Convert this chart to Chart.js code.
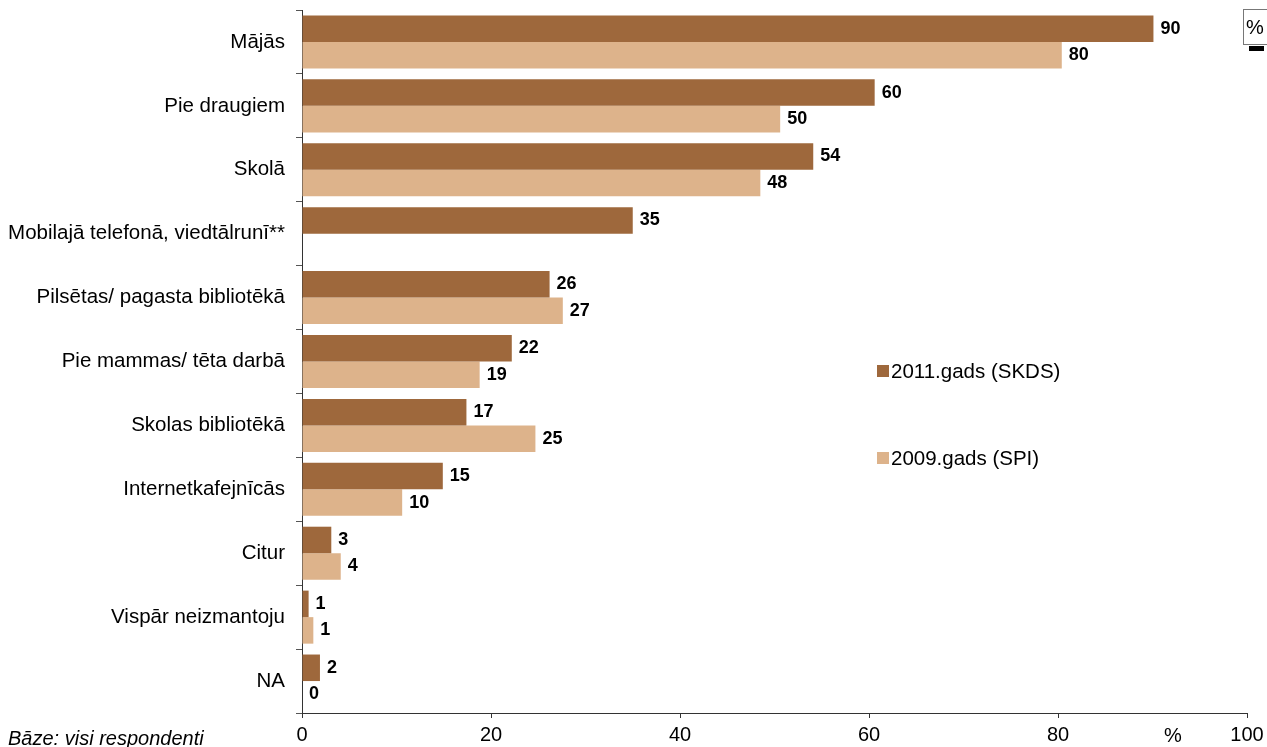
<!DOCTYPE html>
<html>
<head>
<meta charset="utf-8">
<script src="https://cdn.jsdelivr.net/npm/chart.js"></script>
<style>
  body { margin: 0; background: #fff; }
  canvas { display: block; }
</style>
</head>
<body>
<canvas id="chart" width="1267" height="747"></canvas>
<script>
const categories = ['Mājās', 'Pie draugiem', 'Skolā', 'Mobilajā telefonā, viedtālrunī**',
  'Pilsētas/ pagasta bibliotēkā', 'Pie mammas/ tēta darbā', 'Skolas bibliotēkā',
  'Internetkafejnīcās', 'Citur', 'Vispār neizmantoju', 'NA'];
const seriesNames = ['2011.gads (SKDS)', '2009.gads (SPI)'];
const values2011 = [90.1, 60.6, 54.1, 35.0, 26.2, 22.2, 17.4, 14.9, 3.1, 0.7, 1.9];
const values2009 = [80.4, 50.6, 48.5, null, 27.6, 18.8, 24.7, 10.6, 4.1, 1.2, 0];
const labels2011 = [90, 60, 54, 35, 26, 22, 17, 15, 3, 1, 2];
const labels2009 = [80, 50, 48, null, 27, 19, 25, 10, 4, 1, 0];
const xTicks = [0, 20, 40, 60, 80, 100];

const colors = ['#9e683c', '#ddb38b'];
const font = 'Liberation Sans, Arial, sans-serif';

const valueLabels = {
  id: 'valueLabels',
  afterDatasetsDraw(chart) {
    const ctx = chart.ctx;
    const lbls = [labels2011, labels2009];
    ctx.save();
    ctx.font = 'bold 18px ' + font;
    ctx.fillStyle = '#000';
    ctx.textBaseline = 'middle';
    ctx.textAlign = 'left';
    chart.data.datasets.forEach((ds, i) => {
      chart.getDatasetMeta(i).data.forEach((bar, j) => {
        if (lbls[i][j] == null) return;
        ctx.fillText(String(lbls[i][j]), bar.x + 7, bar.y);
      });
    });
    ctx.restore();
  }
};

const extras = {
  id: 'extras',
  afterDraw(chart) {
    const ctx = chart.ctx;
    ctx.save();
    // legend
    ctx.font = '20.5px ' + font;
    ctx.textBaseline = 'middle';
    ctx.textAlign = 'left';
    const ly = [371, 458];
    seriesNames.forEach((n, i) => {
      ctx.fillStyle = colors[i];
      ctx.fillRect(877, ly[i] - 6, 12, 12);
      ctx.fillStyle = '#000';
      ctx.fillText(n, 891, ly[i] + 1);
    });
    // axis unit
    ctx.font = '20px ' + font;
    ctx.textBaseline = 'alphabetic';
    ctx.fillText('%', 1164, 742);
    // base note
    ctx.font = 'italic 20px ' + font;
    ctx.fillText('Bāze: visi respondenti', 8, 745);
    // % box top right
    ctx.strokeStyle = '#777';
    ctx.lineWidth = 1;
    ctx.strokeRect(1243.5, 9.5, 30, 35);
    ctx.fillStyle = '#000';
    ctx.font = '20px ' + font;
    ctx.fillText('%', 1246, 34);
    ctx.fillRect(1249, 46, 15, 5);
    ctx.restore();
  }
};

new Chart(document.getElementById('chart'), {
  type: 'bar',
  data: {
    labels: categories,
    datasets: [
      { label: seriesNames[0], data: values2011, backgroundColor: colors[0] },
      { label: seriesNames[1], data: values2009, backgroundColor: colors[1] }
    ]
  },
  options: {
    indexAxis: 'y',
    responsive: false,
    animation: false,
    skipNull: false,
    categoryPercentage: 0.83,
    barPercentage: 1,
    layout: { padding: { top: 10, right: 20, left: 0, bottom: 0 } },
    plugins: { legend: { display: false }, tooltip: { enabled: false } },
    scales: {
      x: {
        min: 0, max: 100,
        afterBuildTicks(axis) { axis.ticks = xTicks.map(v => ({ value: v })); },
        afterFit(axis) { axis.height = 34; axis.paddingLeft = 0; axis.paddingRight = 0; },
        grid: { drawOnChartArea: false, tickLength: 5, color: '#333' },
        border: { color: '#333' },
        ticks: { color: '#000', padding: 5, maxRotation: 0, font: { family: font, size: 20 } }
      },
      y: {
        afterFit(axis) { axis.width = 302; axis.paddingTop = 0; axis.paddingBottom = 0; },
        grid: { drawOnChartArea: false, tickLength: 6, offset: true, color: '#555' },
        border: { color: '#333' },
        ticks: { color: '#000', padding: 11, font: { family: font, size: 20.5 } }
      }
    }
  },
  plugins: [valueLabels, extras]
});
</script>
</body>
</html>
